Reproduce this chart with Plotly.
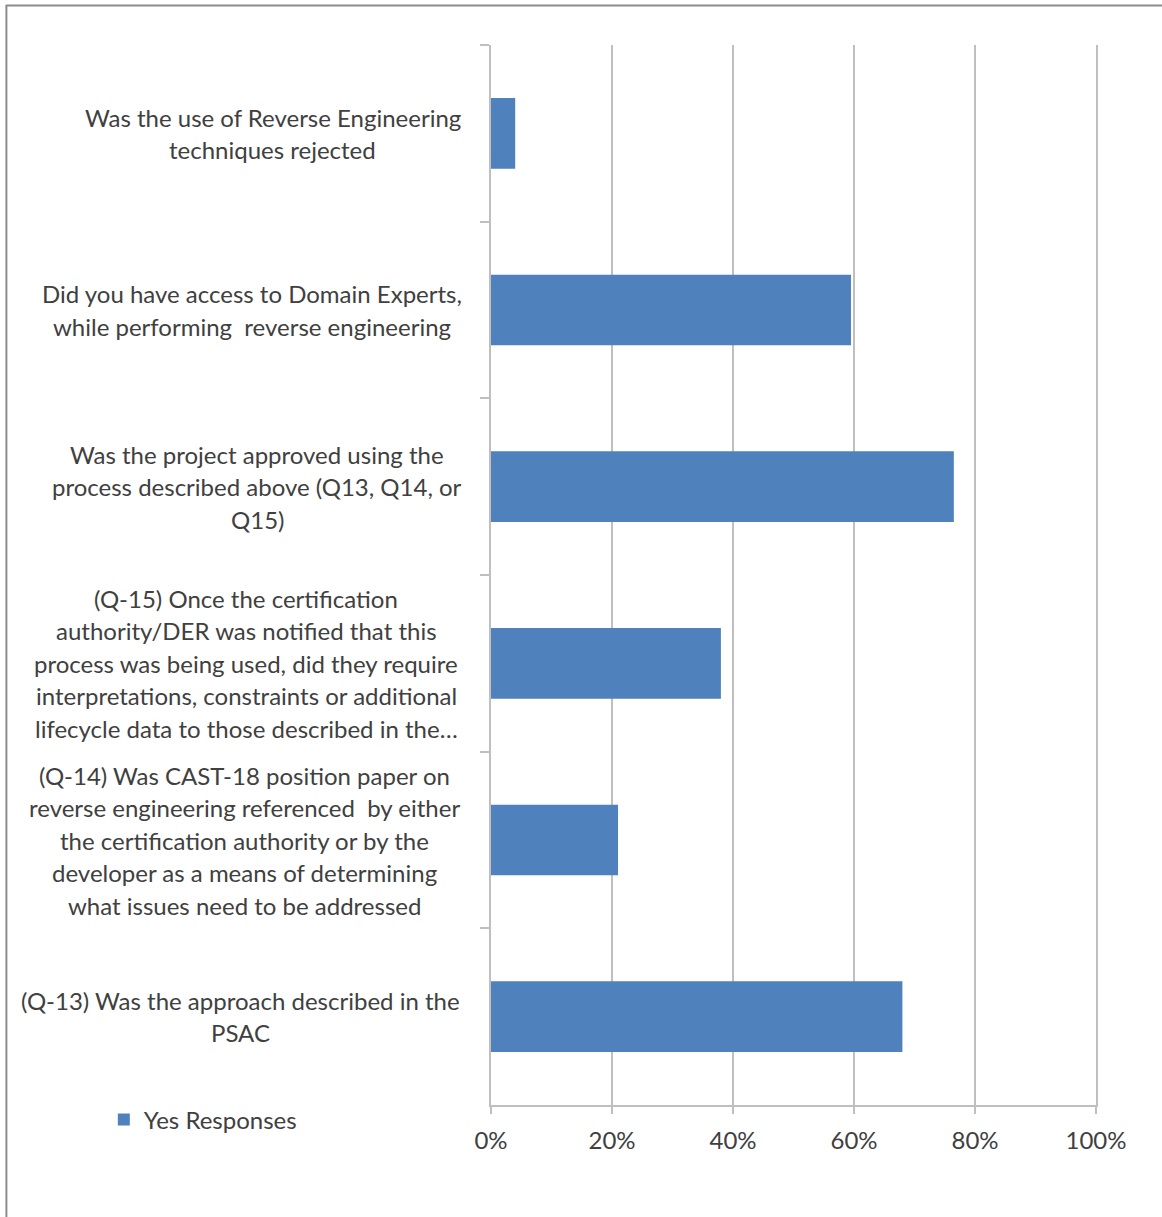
import plotly.graph_objects as go

# Survey questions (top to bottom) and share of "Yes" responses
questions = [
    "Was the use of Reverse Engineering techniques rejected",
    "Did you have access to Domain Experts, while performing reverse engineering",
    "Was the project approved using the process described above (Q13, Q14, or Q15)",
    "(Q-15) Once the certification authority/DER was notified that this process was being used",
    "(Q-14) Was CAST-18 position paper on reverse engineering referenced",
    "(Q-13) Was the approach described in the PSAC",
]
label_lines = [
    ["Was the use of Reverse Engineering", "techniques rejected"],
    ["Did you have access to Domain Experts,", "while performing  reverse engineering"],
    ["Was the project approved using the", "process described above (Q13, Q14, or", "Q15)"],
    ["(Q-15) Once the certification", "authority/DER was notified that this",
     "process was being used, did they require", "interpretations, constraints or additional",
     "lifecycle data to those described in the\u2026"],
    ["(Q-14) Was CAST-18 position paper on", "reverse engineering referenced  by either",
     "the certification authority or by the", "developer as a means of determining",
     "what issues need to be addressed"],
    ["(Q-13) Was the approach described in the", "PSAC"],
]
yes_share = [0.04, 0.595, 0.765, 0.38, 0.21, 0.68]
series_name = "Yes Responses"
x_ticks = [0, 0.2, 0.4, 0.6, 0.8, 1.0]

W, H = 1162, 1217
M_L, M_R, M_T, M_B = 490.5, 66, 45, 112
plot_w = W - M_L - M_R
plot_h = H - M_T - M_B

BAR = "#4F81BD"
TEXT = "#404040"
GRID = "#BFBFBF"
FONT = "Lato"
FS = 24

fig = go.Figure(
    go.Bar(
        x=yes_share,
        y=questions,
        orientation="h",
        marker=dict(color=BAR, line=dict(width=0)),
        name=series_name,
        showlegend=True,
    )
)

def px_to_paper_x(px):
    return (px - M_L) / plot_w

def px_to_paper_y(py):
    return 1 - (py - M_T) / plot_h

# Category labels: lines centred within each block, block placed left of the axis
block_centres = [272, 251.5, 256.5, 245.5, 244, 240]
line_gap = 32.5
annotations = []
for q, lines, cx in zip(questions, label_lines, block_centres):
    n = len(lines)
    for k, ln in enumerate(lines):
        annotations.append(dict(
            x=px_to_paper_x(cx), xref="paper", xanchor="center",
            y=q, yref="y", yanchor="middle",
            yshift=-(k - (n - 1) / 2) * line_gap,
            text=ln, showarrow=False,
            font=dict(family=FONT, size=FS, color=TEXT),
        ))

# Outer frame (top and left edges visible)
shapes = [
    dict(type="line", xref="paper", yref="paper",
         x0=px_to_paper_x(5), x1=px_to_paper_x(W + 5),
         y0=px_to_paper_y(5.5), y1=px_to_paper_y(5.5),
         line=dict(color="#8C8C8C", width=2)),
    dict(type="line", xref="paper", yref="paper",
         x0=px_to_paper_x(5.5), x1=px_to_paper_x(5.5),
         y0=px_to_paper_y(5), y1=px_to_paper_y(H + 10),
         line=dict(color="#8C8C8C", width=2)),
]

fig.update_layout(
    width=W, height=H,
    margin=dict(l=M_L, r=M_R, t=M_T, b=M_B, pad=0),
    paper_bgcolor="white", plot_bgcolor="white",
    bargap=0.6,
    font=dict(family=FONT, size=FS, color=TEXT),
    annotations=annotations,
    shapes=shapes,
    legend=dict(
        x=px_to_paper_x(103), xanchor="left",
        y=px_to_paper_y(1120), yanchor="middle",
        font=dict(family=FONT, size=FS, color=TEXT),
        bgcolor="rgba(0,0,0,0)", itemwidth=30,
    ),
    xaxis=dict(
        range=[0, 1], tickvals=x_ticks, tickformat=".0%",
        showgrid=True, gridcolor=GRID, gridwidth=2,
        showline=True, linecolor=GRID, linewidth=2,
        ticks="outside", ticklen=7, tickcolor=GRID, tickwidth=2,
        ticklabelstandoff=6,
        tickfont=dict(family=FONT, size=FS, color=TEXT),
        zeroline=False, fixedrange=True,
    ),
    yaxis=dict(
        autorange="reversed",
        showticklabels=False,
        showline=True, linecolor=GRID, linewidth=2, mirror=True,
        ticks="outside", ticklen=9, tickcolor=GRID, tickwidth=2,
        tickson="boundaries", showgrid=False, fixedrange=True,
    ),
)

fig.write_html("out.html")
